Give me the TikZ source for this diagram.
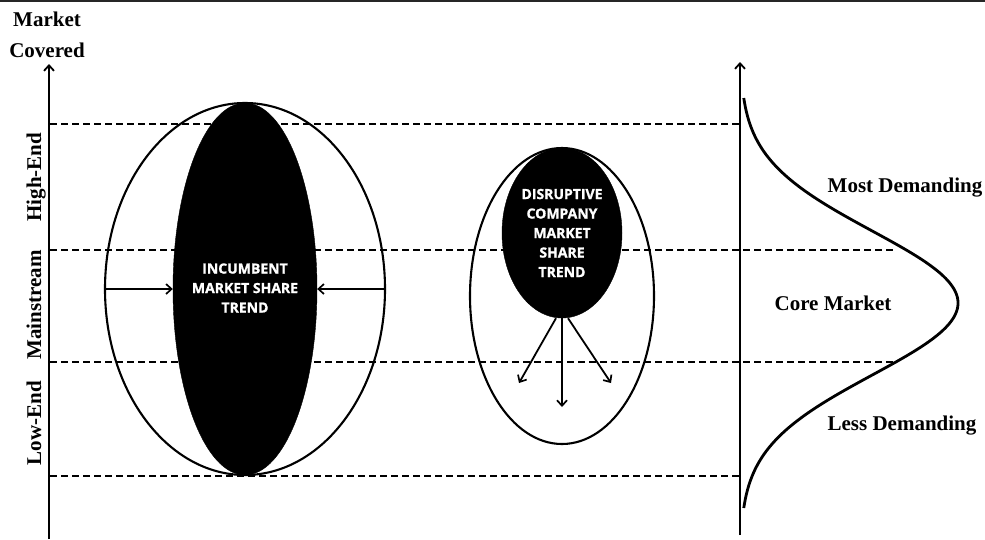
\documentclass[tikz,border=0pt]{standalone}
\usepackage{fontspec}
\setmainfont{Liberation Serif}
\newfontfamily\osans[BoldFeatures={FakeBold=1.2}]{Open Sans}
\usetikzlibrary{shapes.geometric,arrows.meta}
\begin{document}
\begin{tikzpicture}[x=1pt,y=-1pt,
  lbl/.style={font=\fontsize{21}{25}\selectfont\bfseries, inner sep=0pt},
  dashln/.style={line width=1.7pt, dash pattern=on 7pt off 4pt},
  outerell/.style={ellipse, draw, line width=2.1pt, inner sep=0pt},
  blackell/.style={ellipse, fill=black, draw=black, inner sep=0pt},
  wtext/.style={text=white, align=center, font=\osans\bfseries\fontsize{14}{19.5}\selectfont, inner sep=0pt},
  axisarrow/.style={line width=2pt, -{Straight Barb[length=5.5pt,width=10pt,line width=1.8pt]}},
  trend/.style={line width=1.8pt, -{Straight Barb[length=5.5pt,width=10pt,line width=1.7pt]}}
]
\useasboundingbox (0,0) rectangle (985,539);
\draw[line width=2pt, black!85] (0,0.8) -- (985,0.8);

% axes
\coordinate (la0) at (49,539);
\coordinate (la1) at (49,64);
\draw[axisarrow] (la0) -- (la1);
\coordinate (ra0) at (740,535);
\coordinate (ra1) at (740,62);
\draw[axisarrow] (ra0) -- (ra1);

% dashed levels
\coordinate (d1a) at (50,124);  \coordinate (d1b) at (740,124);
\coordinate (d2a) at (50,250);  \coordinate (d2b) at (893,250);
\coordinate (d3a) at (50,362);  \coordinate (d3b) at (893,362);
\coordinate (d4a) at (50,476);  \coordinate (d4b) at (740,476);
\draw[dashln] (d1a) -- (d1b);
\draw[dashln] (d2a) -- (d2b);
\draw[dashln] (d3a) -- (d3b);
\draw[dashln] (d4a) -- (d4b);

% demand curve
\draw[line width=2.8pt, line join=round]
  plot[domain=98:508, samples=160, smooth] ({740+218*exp(-0.5*((\x-303)/72)*((\x-303)/72))}, \x);

% incumbent
\node[outerell, minimum width=280pt, minimum height=372pt] (incout) at (245,289) {};
\node[blackell, minimum width=144pt, minimum height=372pt] (incin) at (245,289) {};
\node[wtext] (inctext) at (245,288) {INCUMBENT\\MARKET SHARE\\TREND};
\draw[trend] (incout.west) -- (incin.west);
\draw[trend] (incout.east) -- (incin.east);

% disruptive
\node[outerell, minimum width=184pt, minimum height=296pt] (disout) at (562,296) {};
\node[blackell, minimum width=120pt, minimum height=170pt] (disin) at (562,233) {};
\node[wtext] (distext) at (562,233) {DISRUPTIVE\\COMPANY\\MARKET\\SHARE\\TREND};
\coordinate (t1) at (519,383);
\coordinate (t2) at (562,407);
\coordinate (t3) at (611,383);
\draw[trend] ([xshift=-6pt]disin.south) -- (t1);
\draw[trend] (disin.south) -- (t2);
\draw[trend] ([xshift=6pt]disin.south) -- (t3);

% labels
\node[lbl, anchor=base] (mkt) at (47,26) {Market};
\node[lbl, anchor=base] (cov) at (47,57) {Covered};
\node[lbl, anchor=base, rotate=90] (high) at (41,177) {High-End};
\node[lbl, anchor=base, rotate=90] (main) at (41,305) {Mainstream};
\node[lbl, anchor=base, rotate=90] (low) at (41,423) {Low-End};
\node[lbl, anchor=base] (most) at (905,192) {Most Demanding};
\node[lbl, anchor=base] (core) at (833,310) {Core Market};
\node[lbl, anchor=base] (less) at (902,430) {Less Demanding};
\end{tikzpicture}
\end{document}
